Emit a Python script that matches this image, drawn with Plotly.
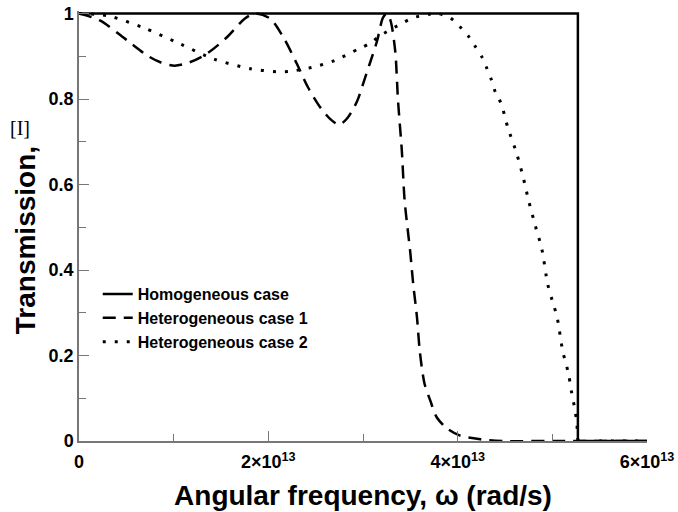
import plotly.graph_objects as go

# ---- data ----
hom_w = [0, 5.27e13, 5.27e13, 6e13]
hom_t = [1, 1, 0, 0]

het1_w = [0, 0.22e13, 0.51e13, 0.72e13, 0.86e13, 1.01e13, 1.17e13, 1.35e13, 1.56e13, 1.75e13,
          1.86e13, 2.02e13, 2.16e13, 2.30e13, 2.42e13, 2.55e13, 2.66e13, 2.75e13, 2.84e13, 2.94e13,
          3.00e13, 3.07e13, 3.15e13, 3.21e13, 3.25e13, 3.29e13, 3.34e13, 3.37e13, 3.41e13, 3.44e13,
          3.50e13, 3.53e13, 3.57e13, 3.60e13, 3.65e13, 3.71e13, 3.78e13, 3.89e13, 4.02e13, 4.24e13,
          4.48e13, 5.0e13, 6e13]
het1_t = [1.0, 0.984, 0.937, 0.902, 0.886, 0.878, 0.886, 0.906, 0.944, 0.988,
          1.0, 0.988, 0.944, 0.883, 0.827, 0.78, 0.752, 0.740, 0.757, 0.796,
          0.835, 0.882, 0.937, 0.99, 1.0, 0.984, 0.913, 0.796, 0.68, 0.562,
          0.44, 0.368, 0.29, 0.21, 0.134, 0.095, 0.055, 0.029, 0.013, 0.004,
          0.0, 0.0, 0.0]

het2_w = [0, 0.30e13, 0.68e13, 1.07e13, 1.42e13, 1.81e13, 2.09e13, 2.23e13, 2.46e13, 2.70e13,
          2.95e13, 3.07e13, 3.18e13, 3.41e13, 3.53e13, 3.68e13, 3.79e13, 3.92e13, 4.02e13, 4.11e13,
          4.18e13, 4.26e13, 4.31e13, 4.36e13, 4.40e13, 4.46e13, 4.53e13, 4.62e13, 4.69e13, 4.75e13,
          4.82e13, 4.89e13, 4.95e13, 5.00e13, 5.05e13, 5.11e13, 5.17e13, 5.20e13, 5.24e13, 5.26e13,
          5.28e13, 5.5e13, 6e13]
het2_t = [1.0, 0.995, 0.967, 0.929, 0.894, 0.871, 0.864, 0.865, 0.874, 0.89,
          0.917, 0.93, 0.948, 0.977, 0.99, 0.998, 1.0, 0.99, 0.97, 0.948,
          0.925, 0.897, 0.871, 0.843, 0.815, 0.789, 0.733, 0.675, 0.619, 0.562,
          0.504, 0.448, 0.368, 0.328, 0.29, 0.21, 0.158, 0.118, 0.072, 0.041,
          0.0, 0.0, 0.0]

x_tickvals = [0, 2e13, 4e13, 6e13]
x_ticktext = ["0", "2×10<sup>13</sup>", "4×10<sup>13</sup>", "6×10<sup>13</sup>"]
y_tickvals = [0, 0.2, 0.4, 0.6, 0.8, 1.0]
y_ticktext = ["0", "0.2", "0.4", "0.6", "0.8", "1"]

names = ["Homogeneous case", "Heterogeneous case 1", "Heterogeneous case 2"]
x_title = "Angular frequency, ω (rad/s)"
y_title = "Transmission,"
y_title_symbol = "[I]"

FONT = "Liberation Sans, Arial, sans-serif"

fig = go.Figure()
fig.add_trace(go.Scatter(x=hom_w, y=hom_t, mode="lines", name=names[0],
                         line=dict(color="black", width=2.5)))
fig.add_trace(go.Scatter(x=het1_w, y=het1_t, mode="lines", name=names[1],
                         line=dict(color="black", width=2.5, dash="13px,8px", shape="spline", smoothing=0.8)))
fig.add_trace(go.Scatter(x=het2_w, y=het2_t, mode="lines", name=names[2],
                         line=dict(color="black", width=3, dash="3px,9px", shape="spline", smoothing=0.8)))

fig.update_layout(
    width=678, height=512,
    margin=dict(l=79, r=31, t=11, b=71),
    paper_bgcolor="white", plot_bgcolor="white",
    font=dict(family=FONT, color="black", size=16, weight="bold"),
    showlegend=True,
    legend=dict(x=0.033, y=0.381, xanchor="left", yanchor="top",
                bgcolor="rgba(0,0,0,0)", font=dict(size=16, weight="bold"),
                tracegroupgap=0),
    xaxis=dict(range=[0, 6e13], tickvals=x_tickvals, ticktext=x_ticktext, automargin=False,
               ticks="inside", ticklen=10, tickcolor="#777", tickwidth=1, ticklabelstandoff=4,
               showline=True, linecolor="#777", linewidth=1.5, showgrid=False, zeroline=False,
               minor=dict(dtick=1e13, ticks="inside", ticklen=7, tickcolor="#777", showgrid=False),
               tickfont=dict(size=18, weight="bold"),
               title=dict(text=x_title, font=dict(size=28, weight="bold"), standoff=14)),
    yaxis=dict(range=[0, 1.006], tickvals=y_tickvals, ticktext=y_ticktext, automargin=False,
               ticks="inside", ticklen=10, tickcolor="#777", tickwidth=1,
               showline=True, linecolor="#777", linewidth=1.5, showgrid=False, zeroline=False,
               minor=dict(dtick=0.1, ticks="inside", ticklen=7, tickcolor="#777", showgrid=False),
               tickfont=dict(size=18, weight="bold")),
    annotations=[
        dict(text=y_title, xref="paper", yref="paper", x=-0.095, y=0.467,
             xanchor="center", yanchor="middle", textangle=-90, showarrow=False,
             font=dict(size=28, weight="bold")),
        dict(text=y_title_symbol, xref="paper", yref="paper", x=-0.104, y=0.728,
             xanchor="center", yanchor="middle", showarrow=False,
             font=dict(family="Liberation Serif, serif", size=20, weight="normal")),
    ],
)

fig.write_html("out.html", config={"displayModeBar": False},
               post_script="document.body.style.margin='0px';")
